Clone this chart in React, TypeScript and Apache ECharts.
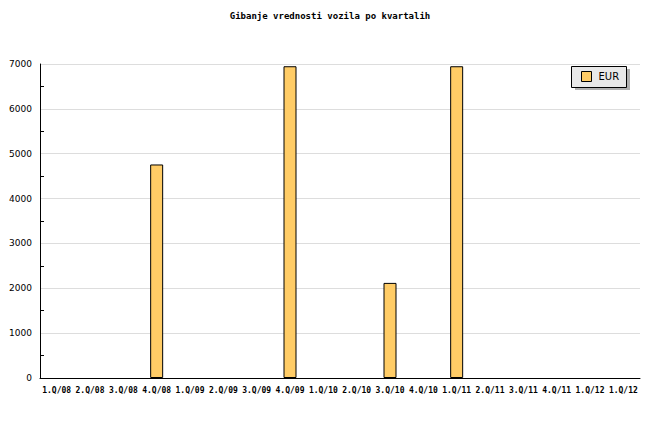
import React, { useEffect, useRef } from "react";
import * as echarts from "echarts";

const categories = [
  "1.Q/08", "2.Q/08", "3.Q/08", "4.Q/08",
  "1.Q/09", "2.Q/09", "3.Q/09", "4.Q/09",
  "1.Q/10", "2.Q/10", "3.Q/10", "4.Q/10",
  "1.Q/11", "2.Q/11", "3.Q/11", "4.Q/11",
  "1.Q/12", "1.Q/12",
];
const eurValues = [0, 0, 0, 4760, 0, 0, 0, 6950, 0, 0, 2120, 0, 6950, 0, 0, 0, 0, 0];
const seriesName = "EUR";
const titleText = "Gibanje vrednosti vozila po kvartalih";
const yMax = 7000;
const yStep = 1000;
// half-step positions used only to place the small inside ticks on the value axis
const halfStepLevels = ["0", "500", "1000", "1500", "2000", "2500", "3000", "3500", "4000", "4500", "5000", "5500", "6000", "6500", "7000"];

export default function App() {
  const ref = useRef<HTMLDivElement>(null);
  useEffect(() => {
    if (!ref.current) return;
    const chart = echarts.init(ref.current, undefined, { renderer: "svg" });
    chart.setOption({
      animation: false,
      backgroundColor: "#ffffff",
      title: {
        text: titleText,
        left: "center",
        top: 6,
        textStyle: {
          fontFamily: "DejaVu Sans Mono",
          fontWeight: "bold",
          fontSize: 9,
          color: "#000",
        },
      },
      graphic: [
        { type: "rect", z: 0, shape: { x: 575, y: 69, width: 55, height: 21 }, style: { fill: "#b0b0b0" } },
        { type: "rect", z: 1, shape: { x: 571.5, y: 66.5, width: 55, height: 21 }, style: { fill: "#e8e8e8", stroke: "#000", lineWidth: 1 } },
      ],
      legend: {
        data: [seriesName],
        left: 581,
        top: 71,
        padding: 0,
        itemWidth: 10,
        itemHeight: 10,
        itemGap: 0,
        z: 5,
        icon: "rect",
        itemStyle: { color: "#ffcc66", borderColor: "#000", borderWidth: 1 },
        textStyle: { fontFamily: "DejaVu Sans", fontSize: 10, color: "#000", padding: [0, 0, 0, 2] },
      },
      grid: { left: 40, right: 20, top: 64, bottom: 62, containLabel: false },
      xAxis: {
        type: "category",
        data: categories,
        boundaryGap: true,
        axisLine: { lineStyle: { color: "#000", width: 1 } },
        axisTick: { inside: true, length: 5, alignWithLabel: false, lineStyle: { color: "#000" } },
        axisLabel: {
          interval: 0,
          margin: 8,
          fontFamily: "DejaVu Sans Mono",
          fontWeight: "bold",
          fontSize: 8,
          color: "#000",
        },
        splitLine: { show: false },
      },
      yAxis: [
        {
          type: "value",
          min: 0,
          max: yMax,
          interval: yStep,
          axisLine: { show: true, lineStyle: { color: "#000", width: 1 } },
          axisTick: { show: false },
          axisLabel: {
            margin: 8,
            fontFamily: "DejaVu Sans",
            fontSize: 9,
            color: "#000",
            formatter: (v: number) => String(v),
          },
          splitLine: { show: true, lineStyle: { color: "#dddddd", width: 1 } },
        },
        {
          type: "category",
          position: "left",
          data: halfStepLevels,
          boundaryGap: false,
          axisLine: { show: false },
          axisLabel: { show: false },
          splitLine: { show: false },
          axisTick: {
            show: true,
            inside: true,
            length: 4,
            interval: (i: number) => i % 2 === 1,
            lineStyle: { color: "#000" },
          },
        },
      ],
      series: [
        {
          name: seriesName,
          type: "bar",
          yAxisIndex: 0,
          data: eurValues.map((v) => (v === 0 ? { value: v, itemStyle: { borderWidth: 0, opacity: 0 } } : v)),
          barWidth: 13,
          itemStyle: { color: "#ffcc66", borderColor: "#000", borderWidth: 1 },
        },
      ],
    });
    return () => chart.dispose();
  }, []);
  return <div ref={ref} style={{ width: 660, height: 440, position: "absolute", left: 0, top: 0 }} />;
}
